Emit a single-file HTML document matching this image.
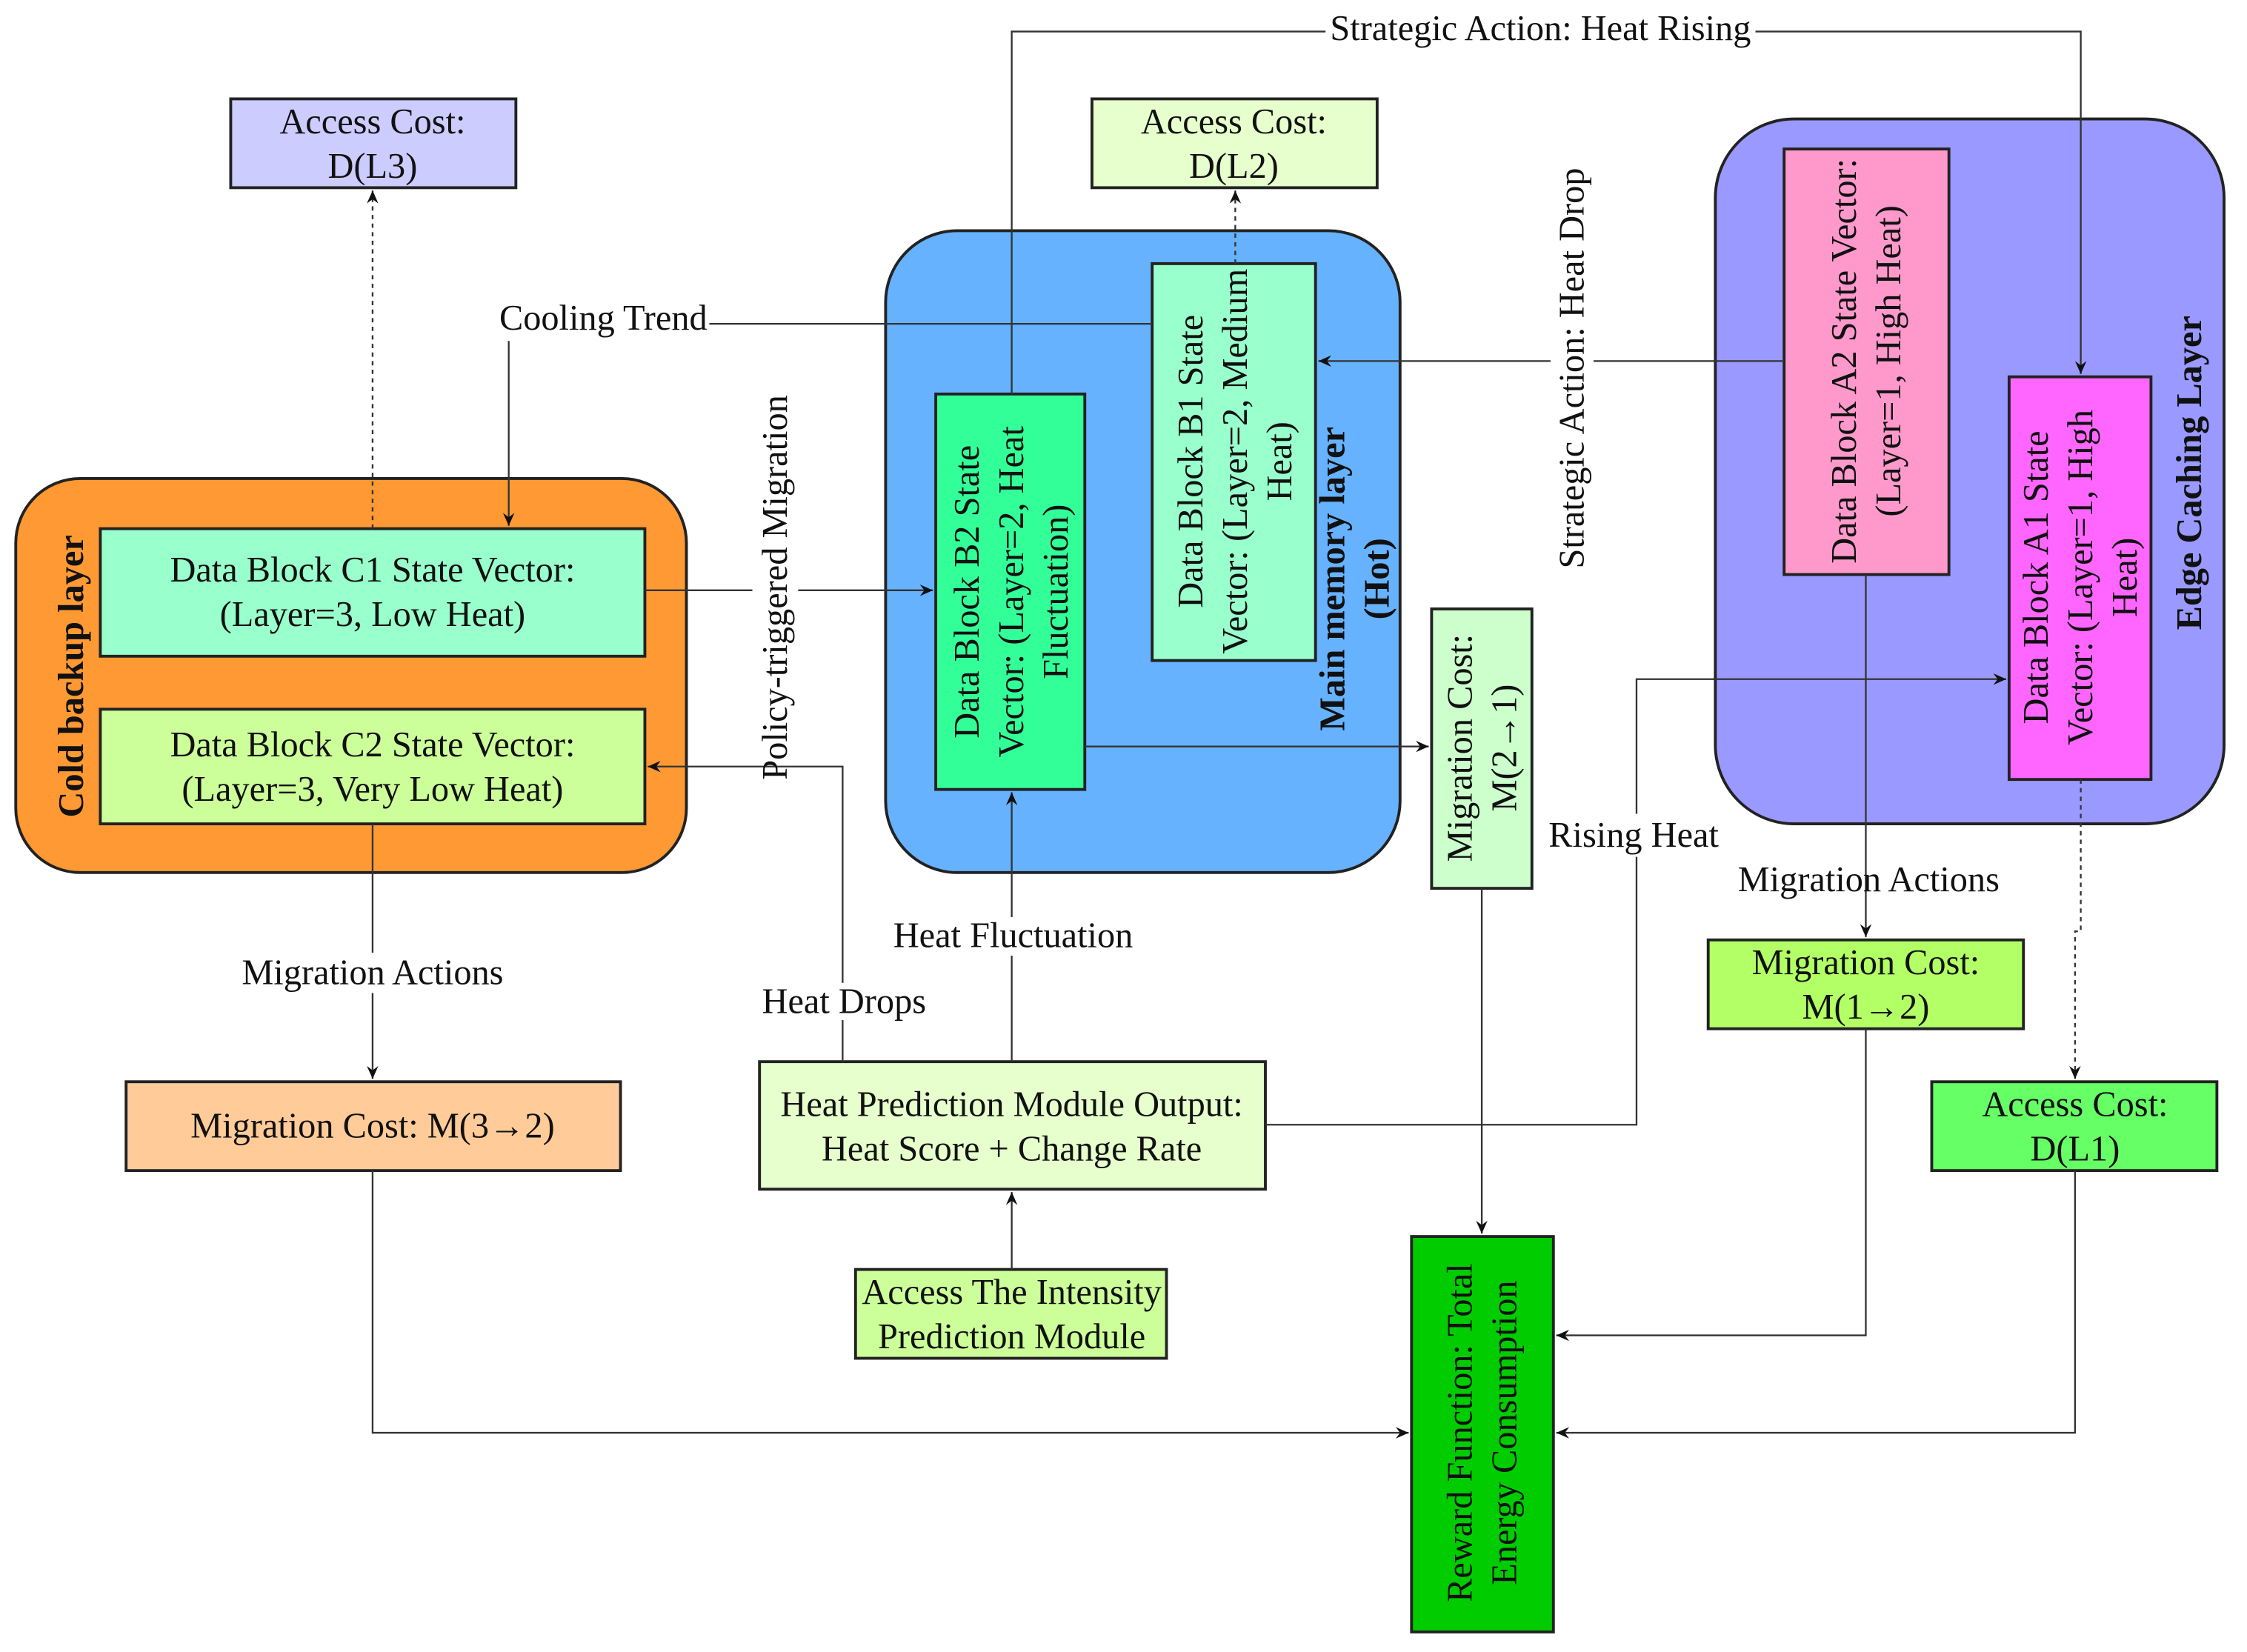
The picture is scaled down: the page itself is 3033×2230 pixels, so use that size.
<!DOCTYPE html>
<html><head><meta charset="utf-8"><style>
html,body{margin:0;padding:0;background:#fff;}
svg{display:block;}
text{font-family:"Liberation Serif",serif;font-size:25px;fill:#111;}
.b{font-weight:bold;}
</style></head><body>
<svg width="3033" height="2230" viewBox="0 0 1568 1153" preserveAspectRatio="none" xmlns="http://www.w3.org/2000/svg">
<defs>
<marker id="a" markerWidth="10" markerHeight="10" refX="9" refY="5" orient="auto" markerUnits="userSpaceOnUse">
<path d="M0,1 L9,5 L0,9 L3,5 Z" fill="#111"/></marker>
</defs>
<g fill="none" stroke="#222" stroke-width="2">
<rect x="11" y="334" width="468" height="275" rx="45" fill="#ff9933"/>
<rect x="618" y="161" width="359" height="448" rx="50" fill="#66b2ff"/>
<rect x="1197" y="83" width="355" height="492" rx="55" fill="#9999ff"/>
<rect x="161" y="69" width="199" height="62" fill="#ccccff"/>
<rect x="762" y="69" width="199" height="62" fill="#e6ffcc"/>
<rect x="70" y="369" width="380" height="89" fill="#99ffcc"/>
<rect x="70" y="495" width="380" height="80" fill="#ccff99"/>
<rect x="653" y="275" width="104" height="276" fill="#33ff99"/>
<rect x="804" y="184" width="114" height="277" fill="#99ffcc"/>
<rect x="999" y="425" width="70" height="195" fill="#ccffcc"/>
<rect x="1245" y="104" width="115" height="297" fill="#ff99cc"/>
<rect x="1402" y="263" width="99" height="281" fill="#ff66ff"/>
<rect x="88" y="755" width="345" height="62" fill="#ffcc99"/>
<rect x="530" y="741" width="353" height="89" fill="#e6ffcc"/>
<rect x="597" y="886" width="217" height="62" fill="#ccff99"/>
<rect x="985" y="863" width="99" height="276" fill="#00cc00"/>
<rect x="1192" y="656" width="220" height="62" fill="#b3ff66"/>
<rect x="1348" y="755" width="199" height="62" fill="#66ff66"/>
</g>
<g fill="none" stroke="#333" stroke-width="1.2">
<path d="M260,369 V133" stroke-dasharray="3,3" marker-end="url(#a)"/>
<path d="M862,184 V133" stroke-dasharray="3,3" marker-end="url(#a)"/>
<path d="M804,226 H495"/>
<path d="M355,238 V367" marker-end="url(#a)"/>
<path d="M706,275 V22 H925"/>
<path d="M1225,22 H1452 V261" marker-end="url(#a)"/>
<path d="M1245,252 H1112"/>
<path d="M1082,252 H920" marker-end="url(#a)"/>
<path d="M450,412 H525"/>
<path d="M557,412 H651" marker-end="url(#a)"/>
<path d="M588,741 V712"/>
<path d="M588,686 V535 H452" marker-end="url(#a)"/>
<path d="M706,741 V667"/>
<path d="M706,640 V553" marker-end="url(#a)"/>
<path d="M757,521 H997" marker-end="url(#a)"/>
<path d="M1034,620 V861" marker-end="url(#a)"/>
<path d="M883,785 H1142 V598"/>
<path d="M1142,568 V474 H1400" marker-end="url(#a)"/>
<path d="M1302,401 V654" marker-end="url(#a)"/>
<path d="M1302,718 V932 H1086" marker-end="url(#a)"/>
<path d="M1452,544 V650 H1448 V753" stroke-dasharray="3,3" marker-end="url(#a)"/>
<path d="M1448,817 V1000 H1086" marker-end="url(#a)"/>
<path d="M260,575 V665"/>
<path d="M260,693 V753" marker-end="url(#a)"/>
<path d="M260,817 V1000 H983" marker-end="url(#a)"/>
<path d="M706,886 V832" marker-end="url(#a)"/>
</g>
<g text-anchor="middle">
<text x="260" y="93">Access Cost:</text><text x="260" y="124">D(L3)</text>
<text x="861" y="93">Access Cost:</text><text x="861" y="124">D(L2)</text>
<text x="260" y="406">Data Block C1 State Vector:</text><text x="260" y="437">(Layer=3, Low Heat)</text>
<text x="260" y="528">Data Block C2 State Vector:</text><text x="260" y="559">(Layer=3, Very Low Heat)</text>
<text x="260" y="794">Migration Cost: M(3→2)</text>
<text x="706" y="779">Heat Prediction Module Output:</text><text x="706" y="810">Heat Score + Change Rate</text>
<text x="706" y="910">Access The Intensity</text><text x="706" y="941">Prediction Module</text>
<text x="1302" y="680">Migration Cost:</text><text x="1302" y="711">M(1→2)</text>
<text x="1448" y="779">Access Cost:</text><text x="1448" y="810">D(L1)</text>
<text x="421" y="230">Cooling Trend</text>
<text x="1075" y="28">Strategic Action: Heat Rising</text>
<text x="589" y="707">Heat Drops</text>
<text x="707" y="661">Heat Fluctuation</text>
<text x="1140" y="591">Rising Heat</text>
<text x="1304" y="622">Migration Actions</text>
<text x="260" y="687">Migration Actions</text>
<g transform="translate(50,472) rotate(-90)"><text class="b" y="8">Cold backup layer</text></g>
<g transform="translate(541,410) rotate(-90)"><text y="8">Policy-triggered Migration</text></g>
<g transform="translate(1097,257) rotate(-90)"><text y="8">Strategic Action: Heat Drop</text></g>
<g transform="translate(705,413) rotate(-90)"><text y="-22">Data Block B2 State</text><text y="9">Vector: (Layer=2, Heat</text><text y="40">Fluctuation)</text></g>
<g transform="translate(861,322) rotate(-90)"><text y="-22">Data Block B1 State</text><text y="9">Vector: (Layer=2, Medium</text><text y="40">Heat)</text></g>
<g transform="translate(945,404) rotate(-90)"><text class="b" y="-7">Main memory layer</text><text class="b" y="24">(Hot)</text></g>
<g transform="translate(1034,522) rotate(-90)"><text y="-7">Migration Cost:</text><text y="24">M(2→1)</text></g>
<g transform="translate(1302,252) rotate(-90)"><text y="-7">Data Block A2 State Vector:</text><text y="24">(Layer=1, High Heat)</text></g>
<g transform="translate(1451,403) rotate(-90)"><text y="-22">Data Block A1 State</text><text y="9">Vector: (Layer=1, High</text><text y="40">Heat)</text></g>
<g transform="translate(1528,330) rotate(-90)"><text class="b" y="8">Edge Caching Layer</text></g>
<g transform="translate(1034,1000) rotate(-90)"><text y="-7">Reward Function: Total</text><text y="24">Energy Consumption</text></g>
</g>
</svg>
</body></html>
